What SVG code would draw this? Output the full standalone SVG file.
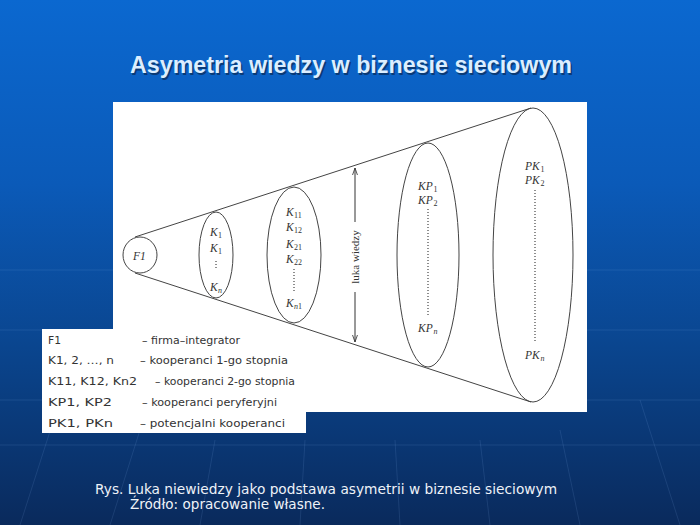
<svg xmlns="http://www.w3.org/2000/svg" width="700" height="525" viewBox="0 0 700 525">
<defs>
  <linearGradient id="bg" x1="0" y1="0" x2="0" y2="1">
    <stop offset="0" stop-color="#0b68d0"/>
    <stop offset="0.35" stop-color="#0b5ab8"/>
    <stop offset="0.65" stop-color="#0a4690"/>
    <stop offset="1" stop-color="#0a2a5c"/>
  </linearGradient>
  <marker id="ah" viewBox="0 0 10 10" refX="10" refY="5" markerWidth="7" markerHeight="7" orient="auto-start-reverse" markerUnits="userSpaceOnUse">
    <path d="M0,1.5 L10,5 L0,8.5" fill="none" stroke="#333" stroke-width="1.2"/>
  </marker>
  <style>
    .shape{fill:none;stroke:#444;stroke-width:1}
    .lab{font-family:"Liberation Serif","Times New Roman",serif;font-style:italic;font-size:11.5px;fill:#333}
    .sub{font-family:"Liberation Serif","Times New Roman",serif;font-size:8px;fill:#333}
    .subi{font-family:"Liberation Serif","Times New Roman",serif;font-style:italic;font-size:8px;fill:#333}
    .dots{stroke:#444;stroke-width:1.2;stroke-dasharray:1 2}
    .leg{font-family:"DejaVu Sans",Verdana,sans-serif;font-size:11px;fill:#333}
    .bgl{stroke:#9cc4ff;stroke-width:1;opacity:0.12;fill:none}
  </style>
</defs>
<rect width="700" height="525" fill="url(#bg)"/>
<g id="bg-lines">
  <path class="bgl" d="M0,270 H700 M0,330 H700 M0,400 H700 M0,445 H700"/>
  <path class="bgl" d="M20,525 L60,400 M110,525 L140,430 M200,525 L215,440 M300,525 L305,440 M400,525 L395,440 M490,525 L480,440 M580,525 L560,430 M680,525 L640,400"/>
</g>
<text x="130" y="73" textLength="442" lengthAdjust="spacingAndGlyphs" font-family="Liberation Sans, Arial, sans-serif" font-weight="bold" font-size="23" fill="#0a2a55" opacity="0.7" transform="translate(1.5,1.5)">Asymetria wiedzy w biznesie sieciowym</text>
<text x="130" y="73" textLength="442" lengthAdjust="spacingAndGlyphs" font-family="Liberation Sans, Arial, sans-serif" font-weight="bold" font-size="23" fill="#dceeff">Asymetria wiedzy w biznesie sieciowym</text>

<rect id="panel" x="113" y="102" width="474" height="310" fill="#ffffff"/>

<g id="connectors">
  <line class="shape" x1="135" y1="237" x2="531" y2="108"/>
  <line class="shape" x1="135" y1="273" x2="531" y2="402"/>
</g>

<g id="F1">
  <ellipse class="shape" cx="140" cy="255" rx="17" ry="18" fill="#fff"/>
  <text class="lab" x="133" y="260">F1</text>
</g>

<g id="K1">
  <ellipse class="shape" cx="216" cy="255" rx="17" ry="43"/>
  <text class="lab" x="210" y="236">K</text><text class="sub" x="218" y="238">1</text>
  <text class="lab" x="210" y="252">K</text><text class="sub" x="218" y="254">1</text>
  <line class="dots" x1="216" y1="261" x2="216" y2="269"/>
  <text class="lab" x="210" y="291">K</text><text class="subi" x="218" y="293">n</text>
</g>

<g id="K11">
  <ellipse class="shape" cx="294" cy="255" rx="27" ry="68"/>
  <text class="lab" x="286" y="216">K</text><text class="sub" x="294" y="218">11</text>
  <text class="lab" x="286" y="231">K</text><text class="sub" x="294" y="233">12</text>
  <text class="lab" x="286" y="248">K</text><text class="sub" x="294" y="250">21</text>
  <text class="lab" x="286" y="263">K</text><text class="sub" x="294" y="265">22</text>
  <line class="dots" x1="294" y1="269" x2="294" y2="293"/>
  <text class="lab" x="286" y="307">K</text><text class="subi" x="294" y="309">n</text><text class="sub" x="298" y="309">1</text>
</g>

<g id="luka">
  <line x1="355" y1="222" x2="355" y2="168" stroke="#333" stroke-width="1" marker-end="url(#ah)"/>
  <line x1="355" y1="292" x2="355" y2="342" stroke="#333" stroke-width="1" marker-end="url(#ah)"/>
  <text x="0" y="0" transform="translate(359,257) rotate(-90)" text-anchor="middle" font-family="Liberation Serif, Times New Roman, serif" font-size="11" fill="#333">luka wiedzy</text>
</g>

<g id="KP">
  <ellipse class="shape" cx="428" cy="255" rx="31" ry="112"/>
  <text class="lab" x="418" y="190">KP</text><text class="sub" x="433.5" y="192">1</text>
  <text class="lab" x="418" y="204">KP</text><text class="sub" x="433.5" y="206">2</text>
  <line class="dots" x1="428" y1="209" x2="428" y2="316"/>
  <text class="lab" x="418" y="332">KP</text><text class="subi" x="433.5" y="334">n</text>
</g>

<g id="PK">
  <ellipse class="shape" cx="533" cy="255" rx="40" ry="147"/>
  <text class="lab" x="525" y="170">PK</text><text class="sub" x="540.5" y="172">1</text>
  <text class="lab" x="525" y="184">PK</text><text class="sub" x="540.5" y="186">2</text>
  <line class="dots" x1="535" y1="190" x2="535" y2="342"/>
  <text class="lab" x="525" y="359">PK</text><text class="subi" x="540.5" y="361">n</text>
</g>

<g id="legend">
  <rect x="42" y="329" width="264" height="104" fill="#ffffff"/>
  <text class="leg" x="48" y="344" textLength="13" lengthAdjust="spacingAndGlyphs">F1</text>
  <text class="leg" x="142" y="344" textLength="98" lengthAdjust="spacingAndGlyphs">– firma–integrator</text>
  <text class="leg" x="48" y="364" textLength="66" lengthAdjust="spacingAndGlyphs">K1, 2, …, n</text>
  <text class="leg" x="140" y="364" textLength="148" lengthAdjust="spacingAndGlyphs">– kooperanci 1-go stopnia</text>
  <text class="leg" x="48" y="385" textLength="89" lengthAdjust="spacingAndGlyphs">K11, K12, Kn2</text>
  <text class="leg" x="155" y="385" textLength="140" lengthAdjust="spacingAndGlyphs">– kooperanci 2-go stopnia</text>
  <text class="leg" x="48" y="406" textLength="64" lengthAdjust="spacingAndGlyphs">KP1, KP2</text>
  <text class="leg" x="142" y="406" textLength="135" lengthAdjust="spacingAndGlyphs">– kooperanci peryferyjni</text>
  <text class="leg" x="48" y="427" textLength="65" lengthAdjust="spacingAndGlyphs">PK1, PKn</text>
  <text class="leg" x="140" y="427" textLength="145" lengthAdjust="spacingAndGlyphs">– potencjalni kooperanci</text>
</g>

<g id="caption" font-family="DejaVu Sans, Verdana, sans-serif" font-size="14" fill="#eef2f8">
  <text x="95" y="494" textLength="462" lengthAdjust="spacingAndGlyphs">Rys. Luka niewiedzy jako podstawa asymetrii w biznesie sieciowym</text>
  <text x="130" y="509" textLength="195" lengthAdjust="spacingAndGlyphs">Źródło: opracowanie własne.</text>
</g>
</svg>
